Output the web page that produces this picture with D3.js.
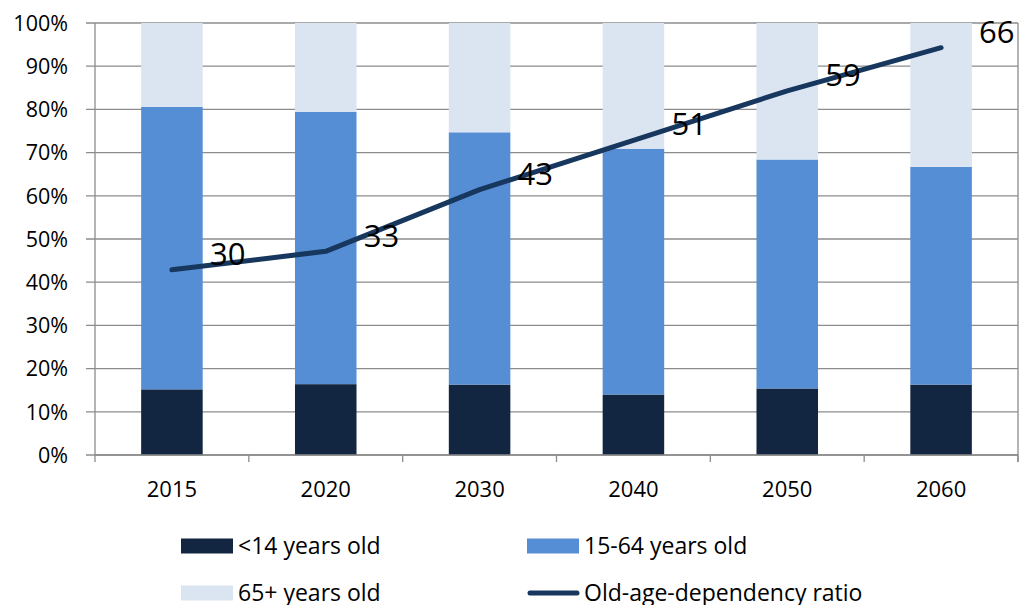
<!DOCTYPE html>
<html>
<head>
<meta charset="utf-8">
<script src="https://cdn.jsdelivr.net/npm/d3@7"></script>
<style>
  body { margin: 0; background: #fff; }
  text { font-family: "Open Sans", Lato, sans-serif; fill: #000; }
</style>
</head>
<body>
<svg id="chart" width="1024" height="605"></svg>
<script>
// chart data
const years = ["2015", "2020", "2030", "2040", "2050", "2060"];
const under14 = [15.2, 16.4, 16.3, 14.0, 15.4, 16.3];
const age15to64 = [65.4, 63.0, 58.4, 56.9, 53.0, 50.4];
const age65plus = [19.4, 20.6, 25.3, 29.1, 31.6, 33.3];
const dependency = [30, 33, 43, 51, 59, 66];
const yTicks = [0, 10, 20, 30, 40, 50, 60, 70, 80, 90, 100];
const seriesNames = ["<14 years old", "15-64 years old", "65+ years old", "Old-age-dependency ratio"];

const colors = ["#132641", "#558ed5", "#dbe5f1"];
const lineColor = "#17375e";
const gridColor = "#8c8c8c";

const svg = d3.select("#chart");
const plotLeft = 95, plotRight = 1018, plotTop = 23, plotBottom = 455;

const x = d3.scaleBand().domain(years).range([plotLeft, plotRight]).paddingInner(0.6).paddingOuter(0.3);
const y = d3.scaleLinear().domain([0, 100]).range([plotBottom, plotTop]);
// hidden secondary axis for the ratio line
const y2 = d3.scaleLinear().domain([0, 70]).range([plotBottom, plotTop]);

// gridlines
svg.append("g").selectAll("line")
    .data(yTicks)
    .enter().append("line")
    .attr("x1", plotLeft - 9).attr("x2", plotRight)
    .attr("y1", d => y(d)).attr("y2", d => y(d))
    .attr("stroke", gridColor).attr("stroke-width", 1.3);

// y labels
svg.append("g").selectAll("text")
    .data(yTicks)
    .enter().append("text")
    .attr("x", 68).attr("y", d => y(d))
    .attr("dy", "0.36em")
    .attr("text-anchor", "end")
    .style("font-size", "21.5px")
    .text(d => d + "%");

// stacked bars
const rows = years.map((yr, i) => ({ year: yr, a: under14[i], b: age15to64[i], c: age65plus[i] }));
const stack = d3.stack().keys(["a", "b", "c"])(rows);

svg.append("g").selectAll("g")
    .data(stack)
    .enter().append("g")
    .attr("fill", (d, i) => colors[i])
    .selectAll("rect")
    .data(d => d)
    .enter().append("rect")
    .attr("x", d => x(d.data.year))
    .attr("width", x.bandwidth())
    .attr("y", d => y(Math.min(d[1], 100)))
    .attr("height", d => y(d[0]) - y(Math.min(d[1], 100)));

// axes lines
svg.append("line")
    .attr("x1", plotLeft).attr("x2", plotLeft).attr("y1", plotTop).attr("y2", plotBottom)
    .attr("stroke", gridColor).attr("stroke-width", 1.3);
svg.append("line")
    .attr("x1", plotRight).attr("x2", plotRight).attr("y1", plotTop).attr("y2", plotBottom + 7)
    .attr("stroke", gridColor).attr("stroke-width", 1.3);
svg.append("line")
    .attr("x1", plotLeft).attr("x2", plotRight).attr("y1", plotBottom).attr("y2", plotBottom)
    .attr("stroke", gridColor).attr("stroke-width", 1.3);

// category boundary ticks
const step = x.step();
svg.append("g").selectAll("line")
    .data(d3.range(years.length + 1))
    .enter().append("line")
    .attr("x1", i => plotLeft + i * step).attr("x2", i => plotLeft + i * step)
    .attr("y1", plotBottom).attr("y2", plotBottom + 7)
    .attr("stroke", gridColor).attr("stroke-width", 1.3);

// x labels
svg.append("g").selectAll("text")
    .data(years)
    .enter().append("text")
    .attr("x", d => x(d) + x.bandwidth() / 2)
    .attr("y", 497)
    .attr("text-anchor", "middle")
    .style("font-size", "22px")
    .text(d => d);

// ratio line
const line = d3.line()
    .x((d, i) => x(years[i]) + x.bandwidth() / 2)
    .y(d => y2(d));

svg.append("path")
    .datum(dependency)
    .attr("d", line)
    .attr("fill", "none")
    .attr("stroke", lineColor)
    .attr("stroke-width", 5)
    .attr("stroke-linecap", "round")
    .attr("stroke-linejoin", "round");

// data labels
svg.append("g").selectAll("text")
    .data(dependency)
    .enter().append("text")
    .attr("x", (d, i) => x(years[i]) + x.bandwidth() / 2 + 38)
    .attr("y", d => y2(d) - 16)
    .attr("dy", "0.36em")
    .style("font-size", "31px")
    .text(d => d);

// legend
const legendPos = [[181, 546], [527, 546], [181, 593], [527, 593]];
const legend = svg.append("g").selectAll("g")
    .data(seriesNames)
    .enter().append("g")
    .attr("transform", (d, i) => `translate(${legendPos[i][0]},${legendPos[i][1]})`);

legend.each(function (d, i) {
    const g = d3.select(this);
    if (i < 3) {
        g.append("rect").attr("x", 0).attr("y", -7.5).attr("width", 52).attr("height", 15).attr("fill", colors[i]);
    } else {
        g.append("line").attr("x1", 3).attr("x2", 50).attr("y1", 0).attr("y2", 0)
            .attr("stroke", lineColor).attr("stroke-width", 5).attr("stroke-linecap", "round");
    }
    g.append("text").attr("x", 57).attr("y", 0).attr("dy", "0.36em")
        .style("font-size", "23px")
        .text(d);
});
</script>
</body>
</html>
